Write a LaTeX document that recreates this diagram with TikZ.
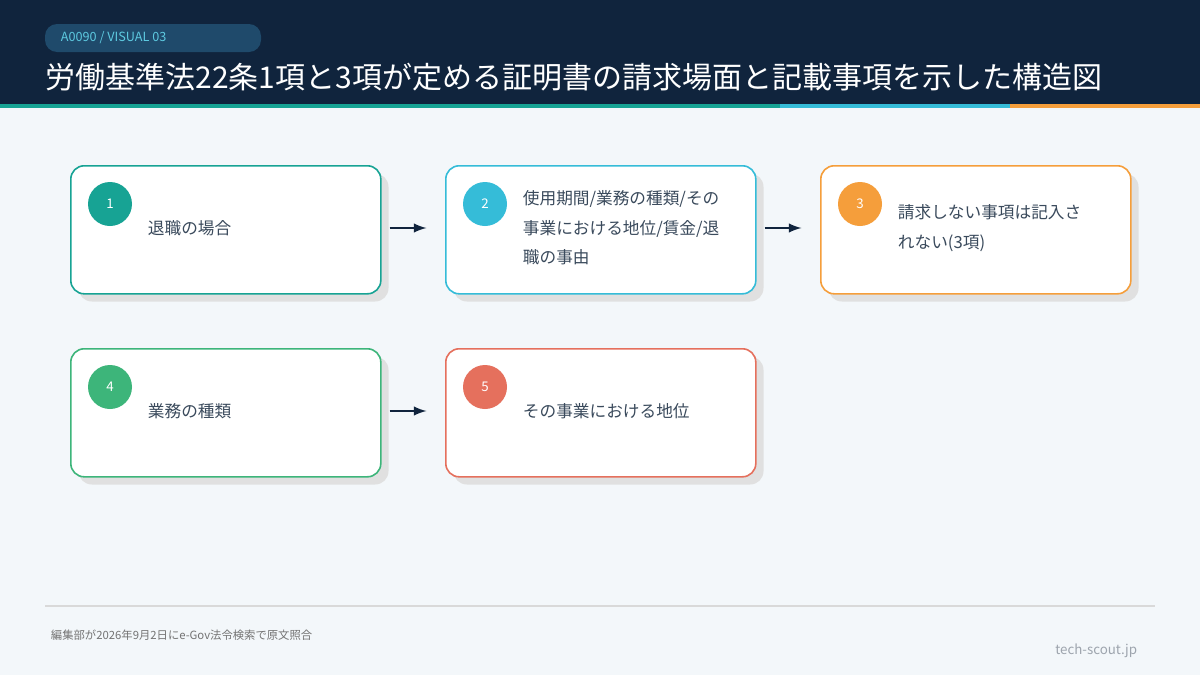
\documentclass[tikz,border=0pt]{standalone}
\usepackage{fontspec}
\setmainfont{Noto Sans CJK JP}
\usetikzlibrary{positioning}
\definecolor{navy}{HTML}{10243D}
\definecolor{pill}{HTML}{1F4A6B}
\definecolor{bg}{HTML}{F3F7FA}
\definecolor{cteal}{HTML}{17A394}
\definecolor{ccyan}{HTML}{35BCD8}
\definecolor{corange}{HTML}{F59E3B}
\definecolor{cgreen}{HTML}{3DB57A}
\definecolor{cred}{HTML}{E5705D}
\definecolor{ink}{HTML}{3A4A5C}
\tikzset{every picture/.style={line width=0.75pt}}
\tikzset{
  step/.style={draw=#1, line width=1.2pt, fill=white, rounded corners=10pt,
    minimum width=232.5pt, minimum height=96pt, anchor=north west,
    postaction={}},
  shade/.style={fill=black!12, rounded corners=10pt, minimum width=232.5pt,
    minimum height=96pt, anchor=north west},
  badge/.style={circle, fill=#1, minimum size=33pt, inner sep=0pt,
    text=white, font=\fontsize{10}{12}\selectfont},
  body/.style={anchor=west, align=left, text=ink,
    font=\fontsize{12.5}{22}\selectfont},
  flow/.style={-latex, draw=navy, line width=2.2pt, shorten <=6pt, shorten >=14pt}
}
\begin{document}
\begin{tikzpicture}[x=0.75pt,y=0.75pt,yscale=-1,xscale=1]
\useasboundingbox (0,0) rectangle (1200,675);
\fill[bg] (0,0) rectangle (1200,675);
% header
\fill[navy] (0,0) rectangle (1200,104);
\fill[cteal] (0,104) rectangle (780,108);
\fill[ccyan] (780,104) rectangle (1010,108);
\fill[corange] (1010,104) rectangle (1200,108);
\fill[pill] (45,24) [rounded corners=9pt] rectangle (261,52);
\node[anchor=west, text=ccyan!80!white, font=\fontsize{9.5}{11}\selectfont] (tag) at (56,38) {A0090 / VISUAL 03};
\node[anchor=west, text=white, font=\fontsize{22.5}{26}\selectfont, inner sep=0pt] (title) at (45,77) {労働基準法22条1項と3項が定める証明書の請求場面と記載事項を示した構造図};

% shadows
\foreach \x/\y in {70/165, 445/165, 820/165, 70/348, 445/348}
  \node[shade] at (\x+8,\y+8) {};

% boxes
\node[step=cteal] (b1) at (70,165) {};
\node[step=ccyan] (b2) at (445,165) {};
\node[step=corange] (b3) at (820,165) {};
\node[step=cgreen] (b4) at (70,348) {};
\node[step=cred] (b5) at (445,348) {};

\node[badge=cteal] (n1) at (110,204) {1};
\node[badge=ccyan] (n2) at (485,204) {2};
\node[badge=corange] (n3) at (860,204) {3};
\node[badge=cgreen] (n4) at (110,387) {4};
\node[badge=cred] (n5) at (485,387) {5};

\node[body] (t1) at (143,228) {退職の場合};
\node[body] (t2) at (518,228) {使用期間/業務の種類/その\\事業における地位/賃金/退\\職の事由};
\node[body] (t3) at (893,228) {請求しない事項は記入さ\\れない(3項)};
\node[body] (t4) at (143,411) {業務の種類};
\node[body] (t5) at (518,411) {その事業における地位};

\draw[flow] (b1.east |- t1) -- (b2.west |- t1);
\draw[flow] (b2.east |- t2) -- (b3.west |- t2);
\draw[flow] (b4.east |- t4) -- (b5.west |- t4);

% footer
\draw[black!15, line width=1pt] (45,606) -- (1155,606);
\node[anchor=west, text=black!55, font=\fontsize{8.5}{10}\selectfont] (src) at (46,635) {編集部が2026年9月2日にe-Gov法令検索で原文照合};
\node[anchor=east, text=ink!50, font=\fontsize{10}{12}\selectfont] (site) at (1142,651) {tech-scout.jp};
\end{tikzpicture}
\end{document}
